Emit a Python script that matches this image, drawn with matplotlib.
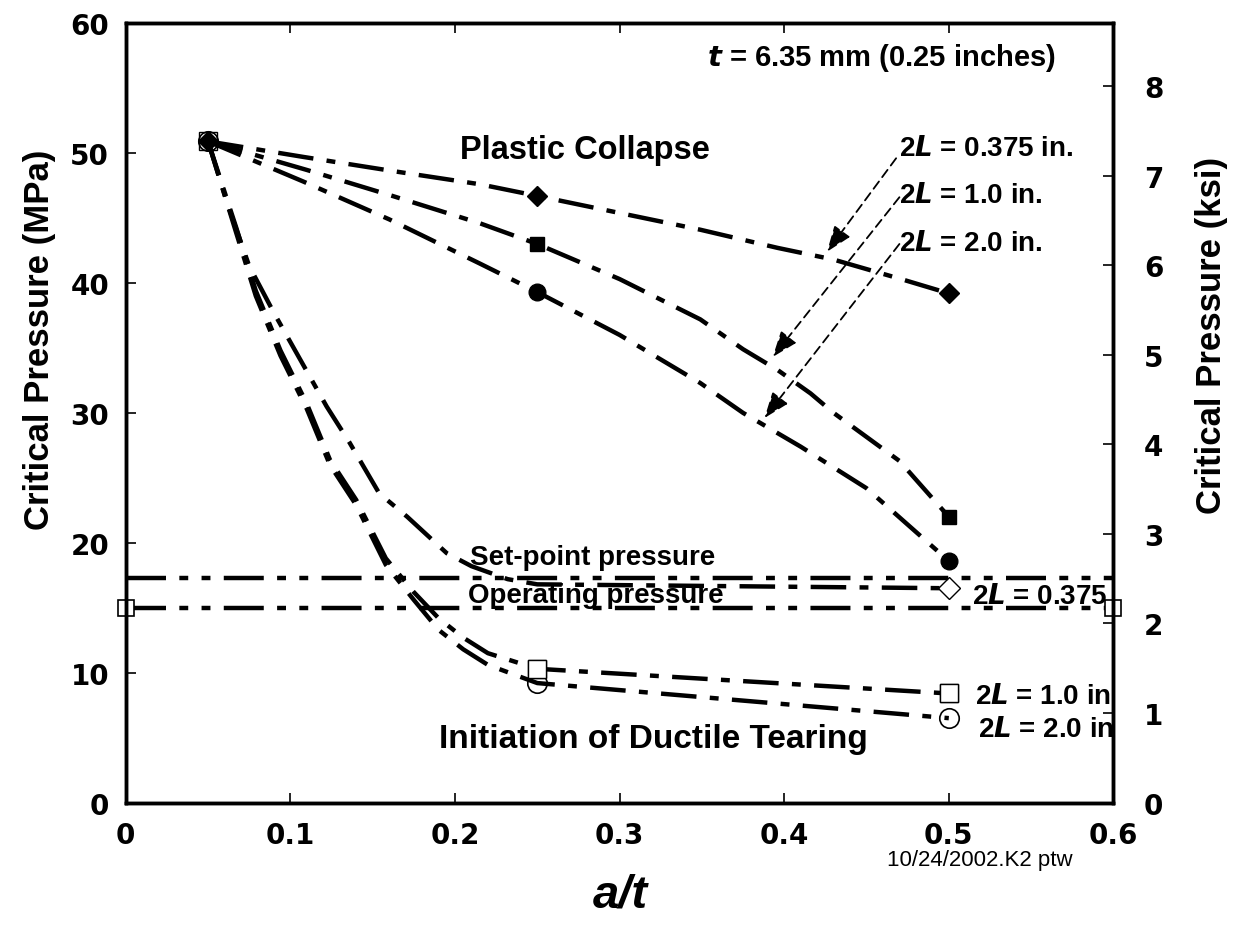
import numpy as np
import matplotlib
matplotlib.use('Agg')
import matplotlib.pyplot as plt

plt.rcParams['font.family'] = ['Liberation Sans', 'DejaVu Sans']
plt.rcParams['font.weight'] = 'bold'
plt.rcParams['axes.labelweight'] = 'bold'

MPA_PER_KSI = 6.89476

# data points (a/t, MPa)
pts_x = [0.05, 0.25, 0.5]
pc_0375 = [50.9, 46.7, 39.2]
pc_10 = [50.9, 43.0, 22.0]
pc_20 = [50.9, 39.3, 18.6]
dt_0375 = [50.9, 16.8, 16.5]
dt_10 = [50.9, 10.3, 8.4]
dt_20 = [50.9, 9.2, 6.5]

# curves
pc_0375_cx = [0.05, 0.108, 0.163, 0.215, 0.25, 0.349, 0.396, 0.43, 0.471, 0.5]
pc_0375_cy = [50.9, 49.7, 48.6, 47.6, 46.7, 44.1, 42.7, 41.8, 40.3, 39.2]
pc_10_cx = [0.05, 0.11, 0.162, 0.215, 0.25, 0.3, 0.349, 0.375, 0.396, 0.416, 0.43, 0.47, 0.5]
pc_10_cy = [50.9, 48.7, 46.7, 44.6, 43.0, 40.3, 37.2, 34.9, 33.3, 31.5, 30.0, 26.3, 22.0]
pc_20_cx = [0.05, 0.108, 0.16, 0.215, 0.25, 0.3, 0.349, 0.375, 0.41, 0.45, 0.5]
pc_20_cy = [50.9, 47.8, 44.9, 41.5, 39.3, 36.0, 32.3, 30.0, 27.4, 24.2, 18.6]

dt_0375_cx = [0.05, 0.062, 0.075, 0.09, 0.106, 0.122, 0.136, 0.154, 0.171, 0.195, 0.21, 0.232, 0.25, 0.5]
dt_0375_cy = [50.9, 46.0, 41.3, 37.7, 34.1, 30.5, 27.7, 23.8, 22.0, 19.2, 18.2, 17.2, 16.8, 16.5]
dt_10_cx = [0.05, 0.067, 0.079, 0.094, 0.11, 0.124, 0.14, 0.158, 0.175, 0.19, 0.205, 0.22, 0.25, 0.5]
dt_10_cy = [50.9, 44.3, 39.4, 34.8, 30.7, 26.4, 23.3, 18.8, 16.2, 14.2, 12.7, 11.5, 10.3, 8.4]
dt_20_cx = [0.05, 0.067, 0.079, 0.094, 0.11, 0.124, 0.14, 0.158, 0.175, 0.19, 0.205, 0.22, 0.25, 0.5]
dt_20_cy = [50.9, 43.9, 39.0, 34.4, 30.3, 26.0, 22.9, 18.3, 15.6, 13.3, 11.8, 10.6, 9.2, 6.5]

# reference pressures
line_x = [0.0, 0.6]
setpoint = [17.3, 17.3]
operating = [15.0, 15.0]

# arrow annotations: label end -> arrow tip
arrow_tail = [(0.468, 49.6), (0.47, 46.6), (0.47, 43.0)]
arrow_head = [(0.426, 42.4), (0.393, 34.3), (0.388, 29.6)]

fig = plt.figure(figsize=(12.33, 9.29), dpi=100)
ax = fig.add_axes([0.102, 0.135, 0.801, 0.839])

dd = (0, (8, 3, 2, 3))
lw = 3.2

# ductile tearing markers under the plastic ones
ax.plot(pts_x[2:], dt_0375[2:], 'D', ms=11, mfc='none', mec='k', mew=1, ls='none')
ax.plot(pts_x, dt_10, 's', ms=13, mfc='none', mec='k', mew=1, ls='none')
ax.plot(pts_x, dt_20, 'o', ms=14, mfc='none', mec='k', mew=1.2, ls='none')

ax.plot(pc_0375_cx, pc_0375_cy, color='k', lw=lw, ls=dd)
ax.plot(pc_10_cx, pc_10_cy, color='k', lw=lw, ls=dd)
ax.plot(pc_20_cx, pc_20_cy, color='k', lw=lw, ls=dd)
ax.plot(dt_0375_cx, dt_0375_cy, color='k', lw=lw, ls=dd)
ax.plot(dt_10_cx, dt_10_cy, color='k', lw=lw, ls=dd)
ax.plot(dt_20_cx, dt_20_cy, color='k', lw=lw, ls=dd)

ax.plot(line_x, setpoint, color='k', lw=lw, ls=(0, (9, 3, 2, 3, 2, 3)))
ax.plot(line_x, operating, color='k', lw=lw, ls=(0, (9, 3, 2, 3, 2, 3)),
        marker='s', ms=11, mfc='white', mec='k', mew=1.2, clip_on=False)

ax.plot(pts_x[1:], dt_10[1:], 's', ms=13, mfc='white', mec='k', mew=1, ls='none')
ax.plot(pts_x, pc_0375, 'D', color='k', ms=10, ls='none')
ax.plot(pts_x[1:], pc_10[1:], 's', color='k', ms=10, ls='none')
ax.plot(pts_x[1:], pc_20[1:], 'o', color='k', ms=12, ls='none')

for tail, head in zip(arrow_tail, arrow_head):
    ax.annotate('', xy=head, xytext=tail,
                arrowprops=dict(arrowstyle='-|>,head_length=1.6,head_width=0.6',
                                color='k', lw=1.3, ls=(0, (5, 3)), shrinkA=0, shrinkB=0))

ax.set_xlim(0, 0.6)
ax.set_ylim(0, 60)
ax.set_xticks(np.arange(0, 0.61, 0.1))
ax.set_xticklabels(['0', '0.1', '0.2', '0.3', '0.4', '0.5', '0.6'])
ax.set_yticks(np.arange(0, 61, 10))
ax.tick_params(direction='in', length=7, width=1.2, labelsize=20, top=True)
ax.tick_params(axis='x', pad=13)
ax.tick_params(axis='y', pad=12)
for lab in ax.get_xticklabels() + ax.get_yticklabels():
    lab.set_family('DejaVu Sans')
    lab.set_weight('heavy')
for s in ax.spines.values():
    s.set_linewidth(2.5)

ax2 = ax.twinx()
ax2.set_ylim(0, 60 / MPA_PER_KSI)
ax2.set_yticks(range(0, 9))
ax2.tick_params(direction='in', length=7, width=1.2, labelsize=20, pad=22)
for lab in ax2.get_yticklabels():
    lab.set_family('DejaVu Sans')
    lab.set_weight('heavy')
for s in ax2.spines.values():
    s.set_linewidth(2.5)

ax.set_ylabel('Critical Pressure (MPa)', fontsize=25)
ax2.set_ylabel('Critical Pressure (ksi)', fontsize=25)
ax.yaxis.set_label_coords(-0.071, 0.595)
ax2.yaxis.set_label_coords(1.083, 0.6)
fig.text(0.503, 0.036, 'a/t', fontsize=34, style='italic', ha='center', va='center')
fig.text(0.795, 0.074, '10/24/2002.K2 ptw', fontsize=16, weight='normal', ha='center', va='center')

ax.text(0.459, 57.4, r'$\bfit{t}$ = 6.35 mm (0.25 inches)', fontsize=21, ha='center', va='center')
ax.text(0.203, 50.3, 'Plastic Collapse', fontsize=23.5, ha='left', va='center')
ax.text(0.19, 4.9, 'Initiation of Ductile Tearing', fontsize=24, ha='left', va='center')
ax.text(0.209, 18.9, 'Set-point pressure', fontsize=20, ha='left', va='center')
ax.text(0.208, 16.0, 'Operating pressure', fontsize=20, ha='left', va='center')

ax.text(0.47, 50.4, r'2$\bfit{L}$ = 0.375 in.', fontsize=20, ha='left', va='center')
ax.text(0.47, 46.75, r'2$\bfit{L}$ = 1.0 in.', fontsize=20, ha='left', va='center')
ax.text(0.47, 43.1, r'2$\bfit{L}$ = 2.0 in.', fontsize=20, ha='left', va='center')
ax.text(0.514, 15.9, r'2$\bfit{L}$ = 0.375 in.', fontsize=20, ha='left', va='center', clip_on=True)
ax.text(0.516, 8.2, r'2$\bfit{L}$ = 1.0 in.', fontsize=20, ha='left', va='center', clip_on=True)
ax.text(0.518, 5.7, r'2$\bfit{L}$ = 2.0 in.', fontsize=20, ha='left', va='center', clip_on=True)

fig.savefig('out.png', dpi=100)
